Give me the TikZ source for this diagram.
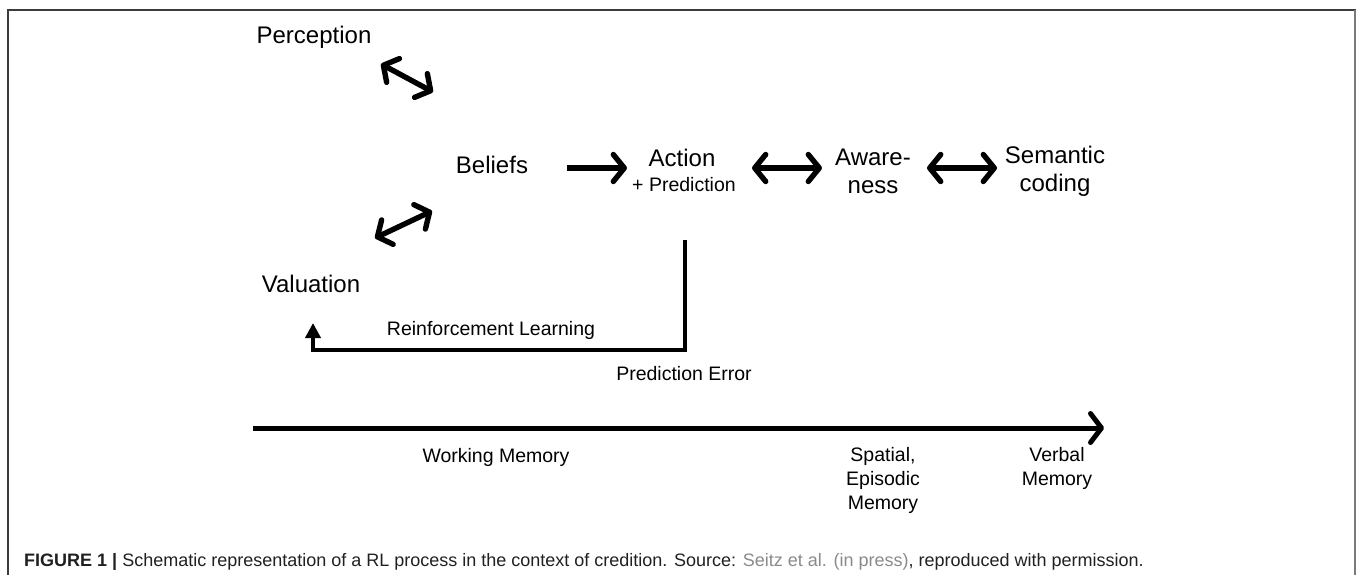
\documentclass[tikz,border=0pt]{standalone}
\usepackage{fontspec}
\setmainfont{Liberation Sans}
\usetikzlibrary{arrows.meta}

\definecolor{captext}{HTML}{231F20}
\definecolor{caplink}{HTML}{8A8A8A}
\definecolor{framedark}{HTML}{3C3C3C}
\definecolor{framegray}{HTML}{7A7A7A}

\tikzset{
  big/.style={font=\fontsize{24}{28}\selectfont, inner sep=0pt, align=center},
  small/.style={font=\fontsize{19.5}{24}\selectfont, inner sep=0pt, align=center},
  barb/.tip={Straight Barb[length=11pt,width=27pt,round]},
  thickarrow/.style={line width=5.4pt, {barb}-{barb}},
  onearrow/.style={line width=5.4pt, -{barb}},
  feedback/.style={line width=3.8pt, line join=miter, -{Triangle[length=15pt,width=15pt]}},
}

\begin{document}
\begin{tikzpicture}[x=1pt, y=-1pt]
  \useasboundingbox (0,0) rectangle (1357,575);

  % outer frame
  \draw[framedark, line width=1.6pt] (8,575) -- (8,10) -- (1356,10);
  \draw[framegray, line width=2.2pt] (1355,10) -- (1355,575);

  % concept nodes
  \node[big] (perception) at (314,37) {Perception};
  \node[big] (beliefs) at (492,165) {Beliefs};
  \node[big] (valuation) at (311,284) {Valuation};
  \node[big] (action) at (682,158) {Action};
  \node[small] (prediction) at (684,185) {+ Prediction};
  \node[big] (awareness) at (873,171) {Aware-\\ness};
  \node[big] (semantic) at (1055,171) {Semantic\\coding};

  % arrow end points
  \coordinate (pa) at (381,64);
  \coordinate (pb) at (433,92);
  \coordinate (va) at (375,238);
  \coordinate (vb) at (432,211);
  \coordinate (ba) at (567,168);
  \coordinate (bb) at (627,168);
  \coordinate (aa) at (752,168);
  \coordinate (ab) at (822,168);
  \coordinate (sa) at (927,168);
  \coordinate (sb) at (997,168);

  \draw[thickarrow] (pa) -- (pb);
  \draw[thickarrow] (va) -- (vb);
  \draw[onearrow] (ba) -- (bb);
  \draw[thickarrow] (aa) -- (ab);
  \draw[thickarrow] (sa) -- (sb);

  % prediction-error feedback loop
  \coordinate (fa) at (685,240);
  \coordinate (fb) at (685,350);
  \coordinate (fc) at (313,350);
  \coordinate (fd) at (313,323);
  \draw[feedback] (fa) -- (fb) -- (fc) -- (fd);
  \node[small] (rl) at (491,330) {Reinforcement Learning};
  \node[small] (pe) at (684,374) {Prediction Error};

  % memory axis
  \coordinate (ma) at (253,428);
  \coordinate (mb) at (1104,428);
  \draw[line width=5pt, -{Straight Barb[length=11pt,width=29pt,round]}] (ma) -- (mb);
  \node[small] (wm) at (496,457) {Working Memory};
  \node[small, anchor=north] (sem) at (883,447) {Spatial,\\Episodic\\Memory};
  \node[small, anchor=north] (vm) at (1057,447) {Verbal\\Memory};

  % caption
  \node[anchor=west, inner sep=0pt, text=captext, font=\fontsize{18}{21}\selectfont] (caption) at (24,562)
    {\textbf{FIGURE 1 |} Schematic representation of a RL process in the context of credition. Source: \textcolor{caplink}{Seitz et al. (in press)}, reproduced with permission.};
\end{tikzpicture}
\end{document}
